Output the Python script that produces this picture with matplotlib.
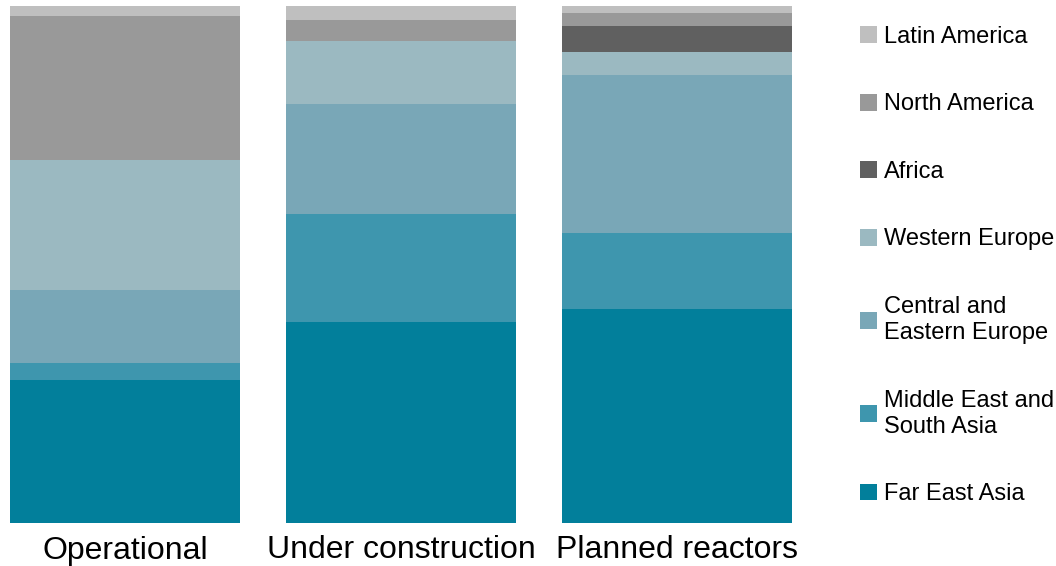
import matplotlib
matplotlib.use("Agg")
import matplotlib.pyplot as plt
import numpy as np

plt.rcParams['font.family'] = ['Liberation Sans', 'DejaVu Sans']

categories = ["Operational", "Under construction", "Planned reactors"]
regions = ["Far East Asia", "Middle East and\nSouth Asia", "Central and\nEastern Europe",
           "Western Europe", "Africa", "North America", "Latin America"]
far_east_asia = [27.7, 38.9, 41.4]
middle_east_south_asia = [3.3, 20.9, 14.7]
central_eastern_europe = [14.1, 21.3, 30.6]
western_europe = [25.1, 12.2, 4.4]
africa = [0.0, 0.0, 5.0]
north_america = [27.9, 4.0, 2.5]
latin_america = [1.9, 2.7, 1.4]
series = [far_east_asia, middle_east_south_asia, central_eastern_europe,
          western_europe, africa, north_america, latin_america]
colors = ["#027f9b", "#3e96ae", "#79a7b7", "#9bb9c1", "#606060", "#999999", "#bfbfbf"]

fig = plt.figure(figsize=(10.56, 5.66), dpi=100)
ax = fig.add_axes([10/1056, 1-523/566, (792-10)/1056, (523-6)/566])

x = np.arange(len(categories))
bottom = np.zeros(len(categories))
handles = []
for vals, col, lab in zip(series, colors, regions):
    v = np.array(vals)
    b = ax.bar(x, v, width=0.8333, bottom=bottom, color=col, label=lab, linewidth=0)
    handles.append(b)
    bottom += v

ax.set_xlim(-0.4167, 2.4167)
ax.set_ylim(0, 100)
ax.set_xticks(x)
ax.set_xticklabels(categories, fontsize=23)
ax.tick_params(axis='x', length=0, pad=9)
ax.set_yticks([])
for s in ax.spines.values():
    s.set_visible(False)

leg = fig.legend(handles[::-1], regions[::-1], loc='upper left',
                 bbox_to_anchor=(860/1056, 1-26/566), frameon=False, fontsize=17,
                 handlelength=0.72, handleheight=0.72, handletextpad=0.28,
                 labelspacing=1.925, borderpad=0, borderaxespad=0)
for t in leg.get_texts():
    t.set_linespacing(1.25)

fig.savefig("out.png", dpi=100)
